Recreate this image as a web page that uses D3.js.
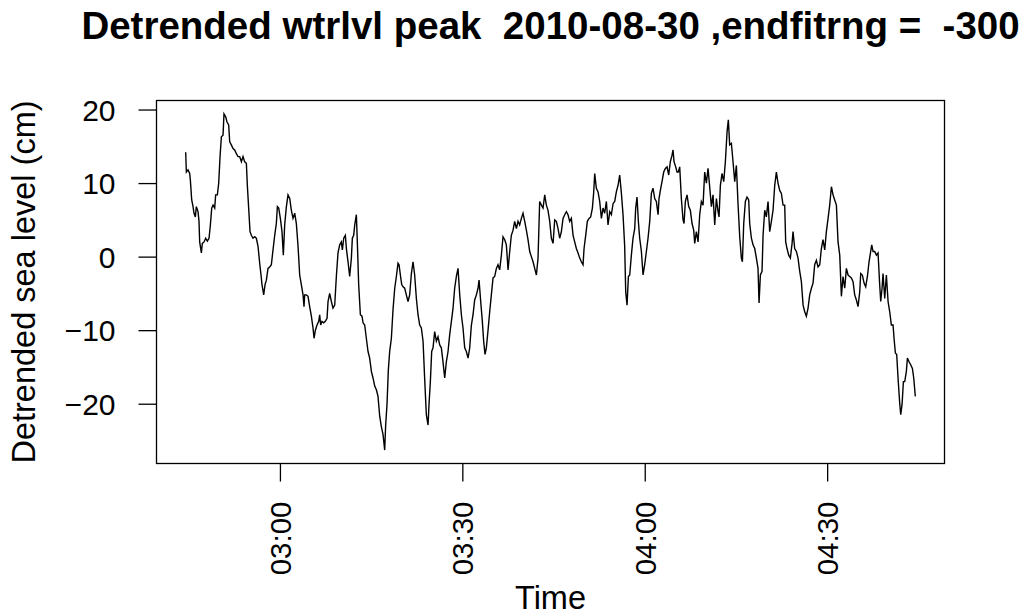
<!DOCTYPE html>
<html>
<head>
<meta charset="utf-8">
<script src="https://cdn.jsdelivr.net/npm/d3@7"></script>
<style>
  html, body { margin: 0; padding: 0; background: #ffffff; }
  svg { display: block; }
  text { font-family: "Liberation Sans", Arial, sans-serif; fill: #000; }
</style>
</head>
<body>
<svg id="chart" width="1025" height="614"></svg>
<script>
// Detrended water level around the 2010-08-30 peak
const day = "2010-08-30";
const startTime = "02:44:30";
const titleText = "Detrended wtrlvl peak  2010-08-30 ,endfitrng =  -300";
const xLabel = "Time";
const yLabel = "Detrended sea level (cm)";
const xTickLabels = ["03:00", "03:30", "04:00", "04:30"];
const yTickValues = [-20, -10, 0, 10, 20];

// minutes elapsed since startTime
const minutes = [
  0.00,0.11,0.38,0.66,0.77,0.99,1.21,1.37,1.59,1.75,2.03,2.19,2.30,2.58,2.74,3.02,3.29,3.56,3.84,4.06,
  4.28,4.50,4.77,4.93,5.21,5.43,5.65,5.87,6.14,6.30,6.58,6.80,7.07,7.24,7.51,7.79,8.06,8.33,8.61,8.88,
  9.16,9.43,9.70,9.98,10.14,10.36,10.58,10.80,11.07,11.35,11.62,11.90,12.17,12.39,12.55,12.83,13.05,13.27,13.54,13.82,
  14.09,14.36,14.64,14.91,15.08,15.30,15.57,15.84,16.06,16.28,16.56,16.83,
  17.11,17.38,17.65,17.93,18.20,18.48,18.75,19.02,19.30,19.46,19.57,19.85,20.12,20.39,20.67,20.94,21.11,21.33,21.60,21.88,
  22.04,22.20,22.42,22.70,22.97,23.25,23.41,23.68,23.96,24.23,24.51,24.78,25.05,25.33,25.60,25.77,25.99,26.26,26.43,26.70,
  26.97,27.25,27.41,27.63,27.80,28.07,28.23,28.45,28.73,29.00,29.17,29.44,29.71,29.99,30.26,30.54,30.81,31.09,31.36,31.63,
  31.91,32.18,32.46,32.73,32.89,33.11,33.33,33.55,33.83,34.10,34.38,34.65,34.92,35.09,35.31,35.53,35.75,36.02,36.29,36.57,
  36.84,
  37.12,37.39,37.66,37.94,38.21,38.49,38.76,39.04,39.31,39.58,39.86,40.02,40.24,40.46,40.68,40.95,41.23,41.50,41.78,42.05,
  42.32,42.60,42.87,43.15,43.42,43.70,43.97,44.24,44.52,44.79,45.07,45.34,45.61,45.89,46.16,46.44,46.71,46.99,47.26,47.53,
  47.81,48.08,48.25,48.52,48.79,49.01,49.23,49.45,49.73,50.00,50.27,50.55,50.82,51.10,51.37,51.64,51.92,52.19,52.47,52.74,
  53.02,53.29,53.56,53.84,54.11,54.39,54.66,54.93,55.21,55.48,55.76,56.03,56.30,56.58,56.85,57.13,57.40,57.68,57.95,58.22,
  58.50,58.77,59.05,59.32,59.59,
  59.87,60.14,60.42,60.69,60.96,61.24,61.51,61.79,62.06,62.34,62.61,62.88,63.16,63.43,63.71,63.98,64.25,64.53,64.80,65.08,
  65.35,65.52,65.79,66.06,66.34,66.61,66.89,67.11,67.27,67.54,67.82,68.09,68.37,68.64,68.91,69.19,69.46,69.74,70.01,70.29,
  70.56,70.83,71.11,71.38,71.66,71.93,72.20,72.37,72.59,72.81,73.03,73.30,73.57,73.85,74.01,74.23,74.45,74.67,74.95,75.22,
  75.49,75.77,76.04,76.32,76.59,76.86,77.14,77.41,77.69,77.85,78.07,78.34,78.62,78.89,79.17,79.44,79.71,79.99,80.15,80.32,
  80.59,80.81,81.03,
  81.25,81.52,81.80,81.96,82.18,82.46,82.73,83.00,83.28,83.55,83.72,83.99,84.27,84.54,84.81,85.09,85.36,85.64,85.91,86.18,
  86.46,86.73,87.01,87.28,87.56,87.72,87.94,88.21,88.49,88.76,89.04,89.25,89.47,89.75,90.02,90.30,90.57,90.84,91.12,91.39,
  91.56,91.78,92.05,92.32,92.60,92.76,93.04,93.31,93.59,93.86,94.13,94.30,94.52,94.79,94.96,95.23,95.50,95.78,96.05,96.33,
  96.60,96.88,97.15,97.42,97.70,97.97,98.25,98.52,98.68,98.90,99.18,99.45,99.73,99.89,100.16,100.44,100.71,100.99,
  101.26,101.54,101.81,102.08,102.36,102.63,102.91,103.18,103.45,103.73,104.00,104.28,104.55,104.82,105.10,105.37,105.65,105.92,106.20,106.47,
  106.74,107.02,107.29,107.57,107.84,108.11,108.39,108.66,108.94,109.21,109.48,109.76,110.03,110.31,110.58,110.86,111.02,111.29,111.57,111.84,
  112.12,112.39,112.66,112.83,113.05,113.32,113.60,113.87,114.14,114.31,114.53,114.69,114.97,115.24,115.52,115.79,116.06,116.34,116.50,116.72,
  116.94,117.16,117.43,117.60,117.82,118.04,118.26,118.53,118.70,118.97,119.24,119.52,119.74,120.00
];

// detrended sea level, cm
const level = [
  14.2,11.5,11.8,11.3,10.4,7.7,6.8,5.9,5.4,6.8,6.1,4.8,2.0,0.5,1.8,2.0,2.5,2.1,2.5,4.3,
  6.6,7.0,6.6,8.4,8.4,10.0,13.6,16.3,16.5,19.4,19.0,18.3,17.9,15.6,15.2,14.7,14.5,14.0,13.6,13.6,
  12.9,13.6,12.9,12.7,9.7,6.6,3.4,2.9,2.5,2.7,2.5,1.4,-0.9,-2.5,-3.8,-5.2,-3.8,-3.2,-1.6,-1.4,
  -1.1,0.9,2.9,4.5,6.8,6.6,5.2,3.4,0.2,4.3,6.8,8.4,
  7.9,6.3,5.2,5.9,4.5,1.4,-2.5,-3.8,-5.2,-6.8,-5.2,-5.2,-5.4,-6.8,-8.1,-9.7,-11.1,-10.0,-9.3,-8.8,
  -7.9,-9.3,-8.8,-9.0,-8.8,-8.4,-6.1,-5.0,-6.1,-7.0,-6.6,-2.7,0.5,1.6,2.0,0.9,2.5,2.9,1.1,-0.7,
  -2.7,-0.2,2.5,2.9,4.3,5.7,2.0,-3.8,-7.9,-8.1,-9.0,-9.3,-11.1,-12.9,-13.8,-15.6,-16.5,-17.6,-18.1,-19.0,
  -21.7,-23.1,-24.2,-26.3,-22.9,-20.1,-15.4,-12.9,-11.1,-7.2,-4.3,-2.7,-0.9,-1.1,-2.5,-3.8,-4.1,-4.3,-5.2,-6.1,
  -5.2,
  -2.3,-0.7,-2.5,-5.7,-7.9,-9.3,-9.7,-11.5,-16.7,-21.5,-22.9,-20.1,-17.0,-12.9,-12.4,-10.2,-11.5,-10.9,-12.0,-12.4,
  -14.3,-16.5,-14.3,-12.9,-10.6,-8.8,-7.0,-4.3,-2.7,-1.6,-5.2,-7.9,-9.7,-12.4,-12.9,-13.8,-12.4,-9.3,-7.9,-5.9,
  -5.2,-4.3,-3.2,-6.1,-8.8,-11.5,-13.3,-12.4,-10.0,-7.5,-5.2,-2.9,-2.7,-1.6,-1.1,-1.8,0.2,2.7,2.3,1.6,
  -1.8,0.7,2.9,3.6,4.8,3.8,4.8,4.3,5.2,5.9,4.8,3.6,2.3,0.7,0.0,-0.7,-1.6,-2.5,-0.2,7.5,
  7.0,6.6,8.4,7.0,6.3,
  4.8,2.5,1.8,5.0,4.8,3.8,2.5,3.4,5.2,5.7,6.1,5.7,4.8,5.2,2.9,2.0,1.1,0.5,-0.2,-0.7,
  -1.1,1.1,2.9,4.8,5.2,5.4,6.6,8.8,11.3,9.3,8.8,7.5,5.2,6.6,5.9,7.5,4.3,6.1,5.7,7.2,
  7.5,8.8,9.7,11.1,8.6,5.7,1.4,-4.8,-6.6,-2.7,-2.5,0.2,2.5,3.8,6.6,8.1,4.8,2.5,0.7,-2.5,
  -1.1,0.7,2.5,4.8,8.6,9.3,7.9,7.5,5.7,7.9,9.0,10.2,11.5,12.0,12.2,11.1,12.9,13.8,14.5,12.9,
  12.2,11.5,11.5,
  12.2,7.9,5.0,4.5,7.5,8.4,6.8,6.3,4.5,3.6,1.8,3.4,2.0,5.7,7.5,7.0,11.5,10.0,12.0,9.5,
  6.8,8.4,4.3,7.9,6.1,5.4,9.7,11.3,10.2,12.9,17.0,18.6,15.2,15.4,12.9,10.2,12.4,7.2,2.7,-0.2,
  -0.7,4.5,7.5,8.1,7.7,4.5,2.5,1.6,1.1,-0.2,-1.6,-6.3,-2.5,-2.0,2.9,6.3,5.4,7.5,3.4,4.8,
  6.3,9.7,11.5,10.0,9.0,8.6,7.0,7.0,2.0,1.1,0.2,-0.2,1.8,3.4,1.1,0.7,-0.2,-2.0,
  -3.4,-6.6,-7.5,-8.1,-7.0,-5.2,-4.3,-3.6,-1.1,-0.5,-1.4,-1.1,1.1,2.3,0.9,3.4,5.2,7.0,9.5,8.4,
  7.7,7.0,2.0,0.2,-5.4,-2.7,-4.3,-1.6,-2.5,-2.7,-2.9,-3.4,-5.2,-5.9,-6.8,-4.8,-2.3,-2.5,-3.6,-4.1,
  -2.7,-0.7,0.7,1.6,0.7,0.7,0.2,0.5,-3.8,-6.1,-4.3,-2.3,-5.7,-2.5,-6.1,-7.5,-9.3,-9.3,-11.1,-13.1,
  -13.3,-16.5,-19.9,-21.5,-20.1,-17.0,-17.0,-15.6,-13.8,-14.3,-14.7,-15.2,-16.5,-19.0
];

const svg = d3.select("#chart");
svg.append("rect").attr("width", 1025).attr("height", 614).attr("fill", "#fff");

// plot region (box edges)
const box = { left: 156.5, right: 944.5, top: 100.5, bottom: 463.5 };

const parseStamp = d3.timeParse("%Y-%m-%d %H:%M:%S");
const parseClock = d3.timeParse("%Y-%m-%d %H:%M");
const t0 = parseStamp(day + " " + startTime);
const series = minutes.map((m, i) => ({ t: new Date(t0.getTime() + m * 60000), v: level[i] }));

// 4% padding on both axes, as in base graphics
const tExt = d3.extent(series, d => d.t);
const tPad = (tExt[1] - tExt[0]) * 0.04;
const x = d3.scaleTime()
  .domain([new Date(+tExt[0] - tPad), new Date(+tExt[1] + tPad)])
  .range([box.left, box.right]);

const vExt = d3.extent(series, d => d.v);
const vPad = (vExt[1] - vExt[0]) * 0.04;
const y = d3.scaleLinear()
  .domain([vExt[0] - vPad, vExt[1] + vPad])
  .range([box.bottom, box.top]);

const tickFont = 29.5;
const labelFont = 32.5;

// x axis
const xTicks = xTickLabels.map(s => parseClock(day + " " + s));
const gx = svg.append("g").attr("transform", `translate(0,${box.bottom})`)
  .call(d3.axisBottom(x).tickValues(xTicks).tickFormat(d3.timeFormat("%H:%M"))
    .tickSize(18).tickSizeOuter(0));
gx.select(".domain").remove();
gx.selectAll(".tick line").attr("stroke", "#000").attr("stroke-width", 1.3);
gx.selectAll(".tick text")
  .attr("font-family", "Liberation Sans, Arial, sans-serif")
  .attr("font-size", tickFont)
  .attr("fill", "#000")
  .attr("transform", "rotate(-90)")
  .attr("text-anchor", "end")
  .attr("x", -38)
  .attr("y", 0)
  .attr("dy", "0.36em");

// y axis
const gy = svg.append("g").attr("transform", `translate(${box.left},0)`)
  .call(d3.axisLeft(y).tickValues(yTickValues).tickSize(18).tickPadding(23).tickSizeOuter(0));
gy.select(".domain").remove();
gy.selectAll(".tick line").attr("stroke", "#000").attr("stroke-width", 1.3);
gy.selectAll(".tick text")
  .attr("font-family", "Liberation Sans, Arial, sans-serif")
  .attr("font-size", 30)
  .attr("fill", "#000")
  .attr("dy", "0.36em");

// data line
const line = d3.line().x(d => x(d.t)).y(d => y(d.v));
svg.append("path").datum(series)
  .attr("d", line)
  .attr("fill", "none")
  .attr("stroke", "#000")
  .attr("stroke-width", 1.4)
  .attr("stroke-linejoin", "miter");

// plot box
svg.append("rect")
  .attr("x", box.left).attr("y", box.top)
  .attr("width", box.right - box.left).attr("height", box.bottom - box.top)
  .attr("fill", "none").attr("stroke", "#000").attr("stroke-width", 1.3);

// titles
svg.append("text")
  .attr("x", (box.left + box.right) / 2).attr("y", 38.5)
  .attr("text-anchor", "middle")
  .attr("font-size", 38.5).attr("font-weight", "bold")
  .style("white-space", "pre")
  .text(titleText);

svg.append("text")
  .attr("x", (box.left + box.right) / 2).attr("y", 608.5)
  .attr("text-anchor", "middle")
  .attr("font-size", labelFont)
  .text(xLabel);

svg.append("text")
  .attr("transform", `translate(35,${(box.top + box.bottom) / 2}) rotate(-90)`)
  .attr("text-anchor", "middle")
  .attr("font-size", labelFont)
  .text(yLabel);
</script>
</body>
</html>
